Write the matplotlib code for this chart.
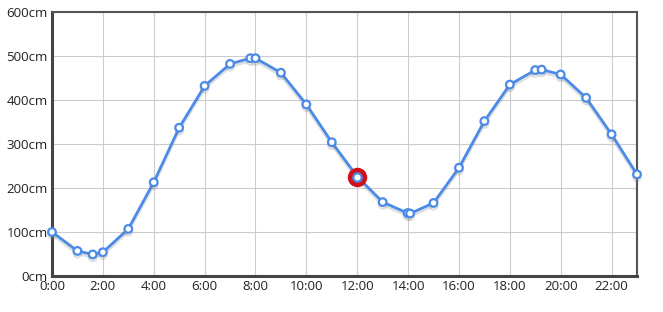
import matplotlib
matplotlib.use("Agg")
import matplotlib.pyplot as plt
import matplotlib.patheffects as pe

plt.rcParams["font.family"] = ["Open Sans", "DejaVu Sans"]

# tide heights (hours, cm)
hours = [0, 1, 1.6, 2, 3, 4, 5, 6, 7, 7.8, 8, 9, 10, 11, 12, 13, 13.98, 14.08,
         15, 16, 17, 18, 19, 19.25, 20, 21, 22, 23]
heights = [100, 57, 49, 54, 107, 213, 337, 432, 482, 495, 495, 462, 390, 304,
           226, 168, 143, 142, 166, 246, 352, 435, 468, 469, 458, 405, 322, 231]
highlight_hour = 12
highlight_height = 226

x_ticks = list(range(0, 24, 2))
x_labels = [f"{h}:00" for h in x_ticks]
y_ticks = [0, 100, 200, 300, 400, 500, 600]
y_labels = [f"{v}cm" for v in y_ticks]

fig = plt.figure(figsize=(6.63, 3.12), dpi=100)
ax = fig.add_axes([52 / 663, 36 / 312, 585 / 663, 264 / 312])

line_color = "#4a8ae8"
ax.plot(hours, heights, color=line_color, linewidth=2, zorder=3,
        path_effects=[pe.SimpleLineShadow(offset=(0, -2), shadow_color="gray", alpha=0.25),
                      pe.Normal()],
        marker="o", markersize=5.5, markerfacecolor="white",
        markeredgecolor=line_color, markeredgewidth=1.6, clip_on=False)

# highlighted point
ax.plot([highlight_hour], [highlight_height], marker="o", markersize=13,
        markerfacecolor="#d0101a", markeredgecolor="#d0101a", zorder=4)
ax.plot([highlight_hour], [highlight_height], marker="o", markersize=6,
        markerfacecolor="white", markeredgecolor=line_color,
        markeredgewidth=1.6, zorder=5)

ax.set_xlim(0, 23)
ax.set_ylim(0, 600)
ax.set_xticks(x_ticks)
ax.set_xticklabels(x_labels)
ax.set_yticks(y_ticks)
ax.set_yticklabels(y_labels)
ax.tick_params(length=0, labelsize=9.5, colors="#222222", pad=3)
ax.grid(True, color="#cccccc", linewidth=0.8)
ax.set_axisbelow(True)

for side in ["top", "right"]:
    ax.spines[side].set_color("#555555")
    ax.spines[side].set_linewidth(1.5)
for side in ["left", "bottom"]:
    ax.spines[side].set_color("#444444")
    ax.spines[side].set_linewidth(2.2)

fig.savefig("out.png", dpi=100)
